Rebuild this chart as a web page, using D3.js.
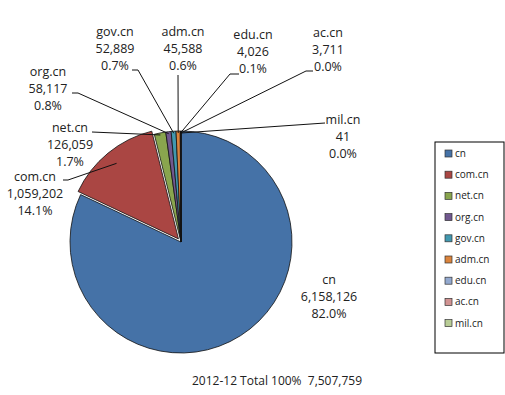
<!DOCTYPE html>
<html>
<head>
<meta charset="utf-8">
<script src="https://cdn.jsdelivr.net/npm/d3@7"></script>
<style>
  body { margin: 0; background: #fff; }
  text { font-family: "Open Sans", sans-serif; fill: #222; white-space: pre; }
</style>
</head>
<body>
<svg width="505" height="395"></svg>
<script>
// domains and counts, 2012-12
var categories = ["cn", "com.cn", "net.cn", "org.cn", "gov.cn", "adm.cn", "edu.cn", "ac.cn", "mil.cn"]
var counts = [6158126, 1059202, 126059, 58117, 52889, 45588, 4026, 3711, 41]
var percents = ["82.0%", "14.1%", "1.7%", "0.8%", "0.7%", "0.6%", "0.1%", "0.0%", "0.0%"]
var title = "2012-12 Total 100%  7,507,759"

var colors = ["#4572A7", "#AA4643", "#89A54E", "#71588F", "#4198AF", "#DB843D", "#93A9CF", "#D19392", "#B9CD96"]

// label layout: text centre x, first baseline y, leader start + optional elbow
var labelLayout = {
    "cn":     {x: 329, y: 284, lead: null},
    "com.cn": {x: 35, y: 181, lead: [[63, 180], [68, 180]]},
    "net.cn": {x: 70, y: 132, lead: [[92, 132]]},
    "org.cn": {x: 48, y: 76, lead: [[72, 93], [78, 93]]},
    "gov.cn": {x: 115, y: 36, lead: [[132, 70], [138, 70]]},
    "adm.cn": {x: 183, y: 36, lead: [[178, 75]]},
    "edu.cn": {x: 253, y: 39, lead: [[239, 74], [230, 74]]},
    "ac.cn":  {x: 328, y: 37, lead: [[313, 71], [306, 71]]},
    "mil.cn": {x: 343, y: 124, lead: [[325, 123]]}
}

var svg = d3.select("svg")
var cx = 181, cy = 242, r = 111
var fmt = d3.format(",")

var data = categories.map((c, i) => ({name: c, value: counts[i], pct: percents[i], color: colors[i]}))

var pie = d3.pie().sort(null).value(d => d.value)
var arcs = pie(data)
var arcMaker = d3.arc().innerRadius(0).outerRadius(r)

var g = svg.append("g").attr("transform", `translate(${cx},${cy})`)

g.selectAll("path").data(arcs).enter()
    .append("path")
    .attr("d", arcMaker)
    .attr("fill", d => d.data.color)
    .attr("stroke", "#111")
    .attr("stroke-width", 0.8)
    .attr("transform", function (d) {
        if (d.data.name != "com.cn") return null
        var a = (d.startAngle + d.endAngle) / 2
        return `translate(${4 * Math.sin(a)},${-4 * Math.cos(a)})`
    })

// leader lines
var lineMaker = d3.line()
arcs.forEach(function (d) {
    var lay = labelLayout[d.data.name]
    if (!lay.lead) return
    var a = (d.startAngle + d.endAngle) / 2
    var rr = d.data.name == "com.cn" ? r * 0.88 : r - 2
    var off = d.data.name == "com.cn" ? 4 : 0
    var end = [cx + (rr + off) * Math.sin(a), cy - (rr + off) * Math.cos(a)]
    svg.append("path")
        .attr("fill", "none").attr("stroke", "#111").attr("stroke-width", 1)
        .attr("d", lineMaker(lay.lead.concat([end])))
})

// labels
data.forEach(function (d) {
    var lay = labelLayout[d.name]
    var t = svg.append("text")
        .attr("text-anchor", "middle")
        .attr("font-size", 12.5)
    var lines = [d.name, fmt(d.value), d.pct]
    lines.forEach(function (s, i) {
        t.append("tspan")
            .attr("x", lay.x)
            .attr("y", lay.y + i * 17)
            .text(s)
    })
})

// legend
var lg = svg.append("g").attr("transform", "translate(435,142)")
lg.append("rect").attr("width", 69).attr("height", 211)
    .attr("fill", "#fff").attr("stroke", "#000").attr("stroke-width", 1)
var item = lg.selectAll("g.item").data(data).enter()
    .append("g").attr("class", "item")
    .attr("transform", (d, i) => `translate(10,${8 + i * 21.2})`)
item.append("rect").attr("width", 7).attr("height", 7)
    .attr("fill", d => d.color).attr("stroke", "#333").attr("stroke-width", 0.7)
item.append("text").attr("x", 10).attr("y", 7)
    .attr("font-size", 10).text(d => d.name)

svg.append("text")
    .attr("x", 277).attr("y", 385)
    .attr("text-anchor", "middle").attr("font-size", 12)
    .text(title)
</script>
</body>
</html>
